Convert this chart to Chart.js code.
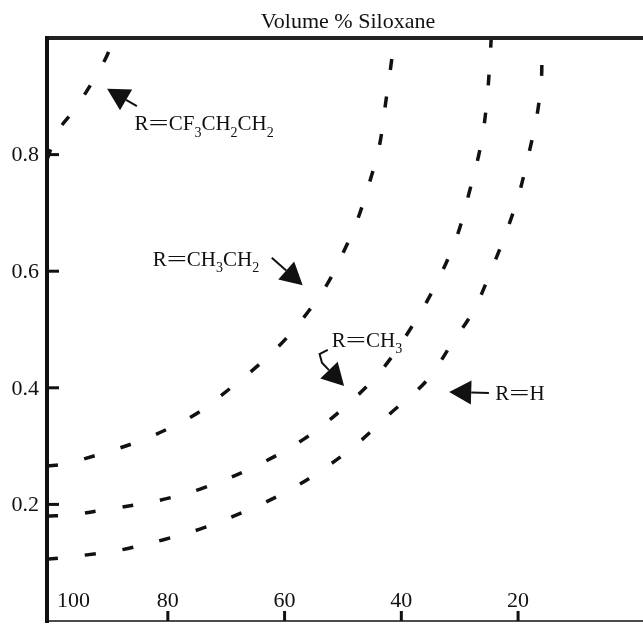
<!DOCTYPE html>
<html>
<head>
<meta charset="utf-8">
<script src="https://cdn.jsdelivr.net/npm/chart.js@4/dist/chart.umd.min.js"></script>
<style>
  html, body { margin: 0; padding: 0; background: #fff; }
  canvas { display: block; }
</style>
</head>
<body>
<canvas id="grafico" width="643" height="625"></canvas>
<script>
// Eixos
const xTicks = [100, 80, 60, 40, 20];
const yTicks = [0.2, 0.4, 0.6, 0.8];

// Curvas (x = % volume de siloxano, y = eixo vertical)
const cf3X = [100.7, 98.9, 96.0, 92.9, 90.6, 89.4];
const cf3Y = [0.791, 0.839, 0.877, 0.925, 0.966, 0.997];

const etilX = [100.7, 97.8, 92.0, 85.3, 79.7, 74.7, 69.2, 64.0, 59.8, 56.0, 52.8, 50.0, 47.6, 45.7, 43.8, 42.6, 41.6, 41.3];
const etilY = [0.266, 0.269, 0.285, 0.307, 0.331, 0.358, 0.400, 0.443, 0.484, 0.530, 0.576, 0.631, 0.686, 0.744, 0.813, 0.895, 0.967, 1.0];

const metilX = [100.7, 96.5, 90.1, 81.9, 74.0, 65.3, 56.7, 49.7, 43.5, 38.0, 33.9, 30.5, 28.4, 26.3, 25.3, 24.8, 24.6];
const metilY = [0.180, 0.182, 0.192, 0.206, 0.228, 0.264, 0.312, 0.367, 0.429, 0.508, 0.581, 0.659, 0.734, 0.820, 0.897, 0.966, 1.0];

const hX = [100.7, 98.5, 94.2, 88.0, 80.9, 73.8, 66.6, 59.8, 53.6, 47.8, 42.0, 35.6, 31.4, 27.5, 24.3, 21.7, 19.8, 18.1, 16.7, 16.0, 15.9, 15.7];
const hY = [0.106, 0.108, 0.113, 0.122, 0.139, 0.160, 0.189, 0.221, 0.259, 0.302, 0.355, 0.413, 0.475, 0.535, 0.609, 0.676, 0.734, 0.804, 0.871, 0.931, 0.971, 1.0];

// Rótulos das curvas: texto ('_' = subscrito), posição do texto e pontos da seta (último = ponta)
const rotulos = [
  { texto: 'R=CF_3CH_2CH_2', x: 85.7, y: 0.851, seta: [[85.3, 0.883], [90.4, 0.913]] },
  { texto: 'R=CH_3CH_2', x: 82.6, y: 0.619, seta: [[62.2, 0.623], [56.9, 0.576]] },
  { texto: 'R=CH_3', x: 51.9, y: 0.479, seta: [[52.6, 0.465], [54.0, 0.458], [53.6, 0.443], [49.8, 0.403]] },
  { texto: 'R=H', x: 23.9, y: 0.388, seta: [[25.0, 0.391], [31.8, 0.393]] }
];

const fonte = '"Liberation Serif", "DejaVu Serif", serif';

function pares(xs, ys) {
  return xs.map((x, i) => ({ x: x, y: ys[i] }));
}

function curva(xs, ys) {
  return {
    data: pares(xs, ys),
    borderColor: '#111',
    borderWidth: 3.5,
    borderDash: [11, 27],
    pointRadius: 0,
    fill: false,
    tension: 0.35
  };
}

// Texto com subscritos (o "=" da figura é bem largo)
function textoQuimico(ctx, texto, x, y) {
  let cx = x;
  for (let i = 0; i < texto.length; i++) {
    let c = texto[i];
    if (c === '_') {
      i++;
      ctx.font = '14px ' + fonte;
      ctx.fillText(texto[i], cx, y + 8);
      cx += ctx.measureText(texto[i]).width;
    } else if (c === '=') {
      ctx.font = '21px ' + fonte;
      const w = ctx.measureText(c).width;
      ctx.save();
      ctx.translate(cx, y);
      ctx.scale(1.7, 1);
      ctx.fillText(c, 0, 0);
      ctx.restore();
      cx += w * 1.7;
    } else {
      ctx.font = '21px ' + fonte;
      ctx.fillText(c, cx, y);
      cx += ctx.measureText(c).width;
    }
  }
}

function seta(ctx, pts) {
  const n = pts.length;
  const [xt, yt] = pts[n - 1];
  const [xa, ya] = pts[n - 2];
  const ang = Math.atan2(yt - ya, xt - xa);
  const comp = 22, larg = 12;
  const bx = xt - comp * Math.cos(ang), by = yt - comp * Math.sin(ang);
  ctx.beginPath();
  ctx.moveTo(pts[0][0], pts[0][1]);
  for (let i = 1; i < n - 1; i++) ctx.lineTo(pts[i][0], pts[i][1]);
  ctx.lineTo(bx, by);
  ctx.lineWidth = 2;
  ctx.stroke();
  ctx.beginPath();
  ctx.moveTo(xt, yt);
  ctx.lineTo(bx + larg * Math.sin(ang), by - larg * Math.cos(ang));
  ctx.lineTo(bx - larg * Math.sin(ang), by + larg * Math.cos(ang));
  ctx.closePath();
  ctx.fill();
}

const moldura = {
  id: 'moldura',
  afterDraw(chart) {
    const ctx = chart.ctx;
    const a = chart.chartArea;
    const sx = chart.scales.x, sy = chart.scales.y;
    ctx.save();
    ctx.fillStyle = '#111';
    ctx.strokeStyle = '#111';
    ctx.setLineDash([]);

    // título
    ctx.font = '22px ' + fonte;
    ctx.textAlign = 'center';
    ctx.textBaseline = 'alphabetic';
    ctx.fillText('Volume % Siloxane', (a.left + a.right) / 2 + 3, 28);

    // moldura: topo, esquerda, base
    ctx.lineWidth = 4;
    ctx.strokeStyle = '#222';
    ctx.beginPath();
    ctx.moveTo(a.left - 2, a.top);
    ctx.lineTo(a.right, a.top);
    ctx.stroke();
    ctx.strokeStyle = '#111';
    ctx.beginPath();
    ctx.moveTo(a.left, a.top - 2);
    ctx.lineTo(a.left, a.bottom + 2);
    ctx.stroke();
    ctx.lineWidth = 1.5;
    ctx.beginPath();
    ctx.moveTo(a.left, a.bottom);
    ctx.lineTo(a.right, a.bottom);
    ctx.stroke();

    // marcas e rótulos do eixo y
    ctx.lineWidth = 3;
    ctx.textAlign = 'right';
    ctx.textBaseline = 'middle';
    ctx.font = '22px ' + fonte;
    yTicks.forEach(v => {
      const py = sy.getPixelForValue(v);
      ctx.beginPath();
      ctx.moveTo(a.left, py);
      ctx.lineTo(a.left + 12, py);
      ctx.stroke();
      ctx.fillText(v.toFixed(1), a.left - 8, py + 1);
    });

    // marcas e rótulos do eixo x (por dentro)
    ctx.textAlign = 'left';
    ctx.textBaseline = 'alphabetic';
    xTicks.forEach(v => {
      const px = sx.getPixelForValue(v);
      if (px > a.left + 8) {
        ctx.beginPath();
        ctx.moveTo(px, a.bottom);
        ctx.lineTo(px, a.bottom - 10);
        ctx.stroke();
      }
      const txt = String(v);
      const w = ctx.measureText(txt).width;
      const esq = Math.max(px - w / 2, a.left + 10);
      ctx.fillText(txt, esq, a.bottom - 14);
    });

    // rótulos das curvas e setas
    rotulos.forEach(r => {
      ctx.textAlign = 'left';
      ctx.textBaseline = 'middle';
      textoQuimico(ctx, r.texto, sx.getPixelForValue(r.x), sy.getPixelForValue(r.y));
      const pts = r.seta.map(p => [sx.getPixelForValue(p[0]), sy.getPixelForValue(p[1])]);
      seta(ctx, pts);
    });
    ctx.restore();
  }
};

new Chart(document.getElementById('grafico').getContext('2d'), {
  type: 'line',
  data: {
    datasets: [
      curva(cf3X, cf3Y),
      curva(etilX, etilY),
      curva(metilX, metilY),
      curva(hX, hY)
    ]
  },
  options: {
    responsive: false,
    animation: false,
    layout: { padding: { left: 47, top: 38, right: 0, bottom: 4 } },
    plugins: {
      legend: { display: false },
      tooltip: { enabled: false }
    },
    scales: {
      x: { type: 'linear', reverse: true, min: -1.4, max: 100.7, display: false },
      y: { min: 0, max: 1, display: false }
    }
  },
  plugins: [moldura]
});
</script>
</body>
</html>
